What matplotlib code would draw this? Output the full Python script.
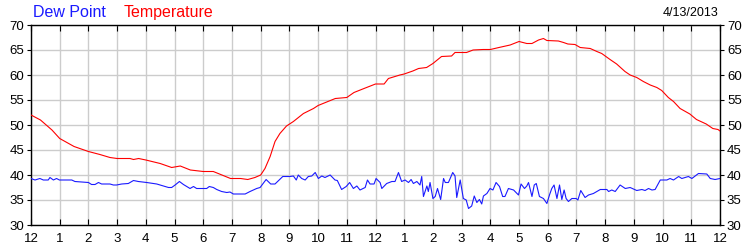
import matplotlib
matplotlib.use("Agg")
import matplotlib.pyplot as plt

# values (hours after midnight, deg F)
temp_hours = [0, 0.33, 0.73, 1.0, 1.5, 2.0, 2.4, 2.75, 3.0, 3.45, 3.57, 3.75, 4.0, 4.5, 4.9,
              5.2, 5.55, 6.0, 6.35, 6.65, 6.95, 7.3, 7.55, 7.8, 8.0, 8.15, 8.33, 8.5, 8.67,
              8.9, 9.14, 9.49, 9.84, 10.0, 10.3, 10.6, 11.0, 11.25, 11.6, 12.0, 12.3, 12.45,
              12.85, 13.0, 13.3, 13.5, 13.78, 14.0, 14.3, 14.65, 14.77, 15.17, 15.4, 15.75,
              16.0, 16.3, 16.69, 17.0, 17.27, 17.45, 17.68, 17.85, 17.97, 18.37, 18.55, 18.7,
              18.95, 19.13, 19.48, 19.71, 19.88, 20.17, 20.4, 20.69, 20.87, 21.1, 21.33,
              21.57, 21.8, 21.97, 22.2, 22.38, 22.61, 22.95, 23.18, 23.52, 23.75, 23.93, 24.0]
temp_values = [52.0, 51.0, 49.0, 47.3, 45.7, 44.7, 44.1, 43.5, 43.3, 43.3, 43.1, 43.3, 43.0,
               42.3, 41.5, 41.8, 41.0, 40.7, 40.7, 40.0, 39.3, 39.3, 39.1, 39.5, 40.0, 41.3,
               43.7, 46.7, 48.3, 49.8, 50.7, 52.3, 53.3, 53.9, 54.6, 55.3, 55.5, 56.5, 57.3,
               58.2, 58.2, 59.3, 60.0, 60.2, 60.8, 61.3, 61.5, 62.3, 63.7, 63.8, 64.5, 64.5,
               65.0, 65.1, 65.1, 65.5, 66.0, 66.7, 66.3, 66.3, 67.0, 67.3, 66.9, 66.8, 66.5,
               66.2, 66.1, 65.5, 65.3, 64.7, 64.3, 63.1, 62.2, 60.7, 60.0, 59.5, 58.7, 58.0,
               57.5, 56.9, 55.5, 54.7, 53.3, 52.2, 51.1, 50.2, 49.3, 49.1, 48.8]

dew_hours = [0, 0.14, 0.31, 0.43, 0.60, 0.66, 0.78, 0.89, 0.99, 1.42, 1.53, 2.0, 2.11, 2.23,
             2.35, 2.46, 2.75, 2.87, 2.98, 3.16, 3.39, 3.57, 3.74, 4.03, 4.38, 4.61, 4.79,
             4.9, 5.02, 5.17, 5.31, 5.54, 5.66, 5.77, 6.12, 6.21, 6.35, 6.47, 6.64, 6.82,
             6.93, 7.05, 7.46, 7.63, 7.86, 7.98, 8.19, 8.35, 8.5, 8.77, 9.02, 9.14, 9.24,
             9.31, 9.43, 9.55, 9.66, 9.78, 9.9, 10.01, 10.13, 10.24, 10.42, 10.59, 10.67,
             10.82, 10.98, 11.1, 11.23, 11.35, 11.46, 11.64, 11.72, 11.81, 11.95, 12.02,
             12.16, 12.22, 12.39, 12.57, 12.68, 12.8, 12.91, 13.03, 13.15, 13.24, 13.32,
             13.44, 13.55, 13.61, 13.67, 13.79, 13.84, 13.9, 14.0, 14.08, 14.16, 14.27,
             14.37, 14.43, 14.54, 14.69, 14.77, 14.83, 14.95, 15.06, 15.16, 15.24, 15.35,
             15.44, 15.53, 15.62, 15.7, 15.76, 15.88, 15.99, 16.09, 16.2, 16.32, 16.43,
             16.51, 16.63, 16.81, 16.98, 17.07, 17.19, 17.27, 17.33, 17.45, 17.53, 17.6,
             17.71, 17.85, 17.97, 18.06, 18.14, 18.22, 18.32, 18.41, 18.49, 18.57, 18.64,
             18.72, 18.84, 18.99, 19.05, 19.15, 19.3, 19.42, 19.59, 19.71, 19.83, 20.06,
             20.12, 20.23, 20.35, 20.52, 20.7, 20.87, 21.1, 21.28, 21.39, 21.51, 21.63,
             21.74, 21.92, 22.15, 22.26, 22.38, 22.56, 22.67, 22.9, 23.02, 23.25, 23.54,
             23.66, 23.83, 24.0]
dew_values = [39.3, 39.0, 39.3, 39.0, 39.0, 39.5, 39.0, 39.3, 39.0, 39.0, 38.7, 38.5, 38.1,
              38.1, 38.5, 38.2, 38.2, 38.0, 38.0, 38.2, 38.3, 38.9, 38.7, 38.5, 38.2, 37.8,
              37.5, 37.5, 38.0, 38.7, 38.1, 37.3, 37.7, 37.3, 37.3, 37.7, 37.5, 37.1, 36.7,
              36.5, 36.6, 36.2, 36.2, 36.7, 37.3, 37.5, 39.1, 38.2, 38.2, 39.7, 39.7, 39.8,
              39.0, 40.0, 39.3, 39.0, 39.7, 39.8, 40.5, 39.3, 39.8, 39.5, 40.0, 39.0, 38.9,
              37.1, 37.7, 38.5, 37.3, 37.8, 37.0, 37.5, 39.0, 38.2, 38.2, 39.3, 38.5, 37.3,
              38.3, 38.7, 38.7, 40.5, 38.7, 39.0, 38.5, 39.1, 38.3, 38.7, 38.0, 39.7, 35.7,
              37.8, 36.7, 38.5, 35.3, 35.7, 37.3, 35.1, 39.3, 38.5, 38.5, 40.5, 39.8, 35.5,
              39.0, 35.3, 35.0, 33.3, 33.8, 35.8, 34.5, 35.1, 34.2, 35.8, 36.3, 37.3, 37.0,
              38.5, 37.7, 35.7, 35.7, 37.3, 37.0, 36.0, 38.2, 37.3, 37.8, 38.5, 35.7, 38.0,
              38.3, 35.7, 35.3, 34.3, 36.0, 37.3, 38.0, 35.3, 38.0, 35.1, 37.0, 35.3, 34.7,
              35.3, 35.3, 35.0, 36.9, 35.5, 36.0, 36.3, 36.7, 37.1, 37.1, 36.7, 37.0, 36.7,
              38.0, 37.3, 37.5, 36.9, 37.1, 36.9, 37.3, 37.0, 37.1, 39.0, 39.0, 39.3, 39.0,
              39.7, 39.3, 39.7, 39.3, 40.3, 40.2, 39.3, 39.1, 39.3]

hour_labels = ['12', '1', '2', '3', '4', '5', '6', '7', '8', '9', '10', '11',
               '12', '1', '2', '3', '4', '5', '6', '7', '8', '9', '10', '11', '12']
y_ticks = [30, 35, 40, 45, 50, 55, 60, 65, 70]
date_text = '4/13/2013'

plt.rcParams['font.family'] = ['Liberation Sans', 'DejaVu Sans']

fig = plt.figure(figsize=(7.5, 2.5), dpi=100)
ax = fig.add_axes([31 / 750, 25 / 250, 689 / 750, 200 / 250])

ax.plot(dew_hours, dew_values, color='#1a1aff', lw=0.8, zorder=3)
ax.plot(temp_hours, temp_values, color='#ff0000', lw=0.8, zorder=3)

ax.set_xlim(0, 24)
ax.set_ylim(30, 70)
ax.set_xticks(range(25))
ax.set_xticklabels(hour_labels)
ax.set_yticks(y_ticks)
ax.grid(True, color='#cccccc', lw=1.0, zorder=0)
ax.set_axisbelow(True)

for s in ax.spines.values():
    s.set_color('black')
    s.set_linewidth(1.0)

ax.tick_params(axis='y', which='both', left=True, right=True, labelleft=True,
               labelright=True, direction='out', length=3, labelsize=9.5, pad=2)
ax.tick_params(axis='x', which='both', bottom=True, top=True, labelbottom=True,
               direction='in', length=4, labelsize=9.5, pad=6)

fig.text(33 / 750, 1 - 17 / 250, 'Dew Point', color='#1a1aff', fontsize=11.5,
         ha='left', va='baseline')
fig.text(124 / 750, 1 - 17 / 250, 'Temperature', color='#ff0000', fontsize=11.5,
         ha='left', va='baseline')
fig.text(718 / 750, 1 - 16 / 250, date_text, color='black', fontsize=9,
         ha='right', va='baseline')

fig.savefig('out.png', dpi=100)
